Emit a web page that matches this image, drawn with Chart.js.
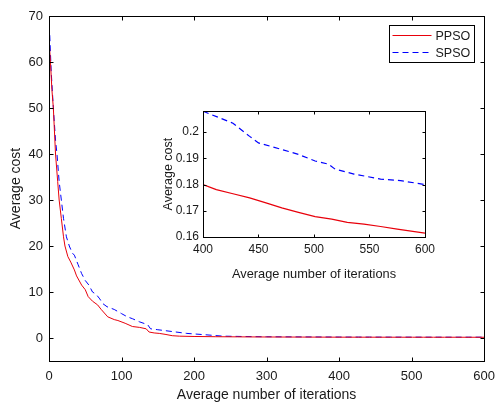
<!DOCTYPE html>
<html>
<head>
<meta charset="utf-8">
<script src="https://cdn.jsdelivr.net/npm/chart.js@4.4.0/dist/chart.umd.min.js"></script>
<style>
    html, body { margin: 0; padding: 0; background: #fff; }
    #wrap { position: relative; width: 503px; height: 409px; }
    #mainChart { position: absolute; left: 0; top: 0; width: 503px; height: 409px; }
    #insetChart { position: absolute; left: 155px; top: 100px; width: 285px; height: 183px; }
</style>
</head>
<body>
<div id="wrap">
    <canvas id="mainChart" width="503" height="409"></canvas>
    <canvas id="insetChart" width="285" height="183"></canvas>
</div>
<script>
// Main plot data
const ppsoX = [0, 2, 4, 6, 9, 12, 14, 17, 20, 22, 26, 30, 35, 38, 45, 50, 54, 60, 67, 72, 81, 90, 95, 105, 115, 125, 134, 138, 145, 152, 160, 170, 180, 200, 230, 260, 300, 350];
const ppsoY = [65, 60, 54, 50, 40, 34, 30, 26, 22, 20, 17.7, 16.5, 14.8, 13.5, 11.5, 10.5, 9, 8, 7.2, 6.2, 4.6, 4.0, 3.8, 3.2, 2.5, 2.3, 2.0, 1.3, 1.1, 1.0, 0.8, 0.5, 0.4, 0.33, 0.28, 0.25, 0.22, 0.2];
const spsoX = [0, 1, 3, 6, 9, 11, 14, 17, 20, 24, 28, 32, 35, 40, 45, 50, 55, 60, 65, 70, 74, 80, 90, 100, 108, 115, 125, 136, 140, 150, 170, 190, 216, 240, 270, 300, 350];
const spsoY = [68, 66, 58, 50, 43, 40, 34, 30, 26, 22, 20, 18.5, 18, 16, 14, 12.5, 11.5, 10, 9.5, 8.5, 7.5, 6.8, 6.2, 5.3, 4.6, 4.2, 3.5, 2.9, 2.0, 1.8, 1.4, 1.0, 0.7, 0.4, 0.32, 0.27, 0.24];

// Inset (zoom on 400..600)
const ppsoInsetX = [400, 412, 427, 442, 456, 471, 486, 501, 516, 530, 545, 560, 575, 600];
const ppsoInsetY = [0.1800, 0.1781, 0.1765, 0.1749, 0.1731, 0.1711, 0.1694, 0.1678, 0.1668, 0.1656, 0.1649, 0.1640, 0.1630, 0.1615];
const spsoInsetX = [400, 427, 442, 450, 471, 486, 501, 513, 519, 536, 560, 578, 600];
const spsoInsetY = [0.2080, 0.2034, 0.1984, 0.1959, 0.1934, 0.1915, 0.1890, 0.1878, 0.1859, 0.1840, 0.1821, 0.1815, 0.1800];

// Tick labels
const mainXTicks = [0, 100, 200, 300, 400, 500, 600];
const mainYTicks = [0, 10, 20, 30, 40, 50, 60, 70];
const insetXTicks = [400, 450, 500, 550, 600];
const insetYTicks = [0.16, 0.17, 0.18, 0.19, 0.2];

const FONT = "'Liberation Sans', Arial, Helvetica, sans-serif";
const TXT = "#1a1a1a";

function toPoints(xs, ys) {
    return xs.map((x, i) => ({ x: x, y: ys[i] }));
}

// MATLAB-style box with inward ticks, optional legend box
const framePlugin = {
    id: "frame",
    beforeDraw(chart) {
        const { ctx, chartArea: a } = chart;
        ctx.save();
        ctx.fillStyle = "#fff";
        ctx.fillRect(a.left, a.top, a.width, a.height);
        ctx.restore();
    },
    afterDraw(chart, args, opts) {
        const { ctx, chartArea: a, scales } = chart;
        const L = Math.round(a.left) + 0.5, R = Math.round(a.right) + 0.5;
        const T = Math.round(a.top) + 0.5, B = Math.round(a.bottom) + 0.5;
        const len = opts.len || 4;
        ctx.save();
        ctx.strokeStyle = "#000";
        ctx.lineWidth = 1;
        ctx.beginPath();
        scales.x.ticks.forEach(t => {
            const px = Math.round(scales.x.getPixelForValue(t.value)) + 0.5;
            ctx.moveTo(px, B); ctx.lineTo(px, B - len);
            ctx.moveTo(px, T); ctx.lineTo(px, T + len);
        });
        scales.y.ticks.forEach(t => {
            const py = Math.round(scales.y.getPixelForValue(t.value)) + 0.5;
            ctx.moveTo(L, py); ctx.lineTo(L + len, py);
            ctx.moveTo(R, py); ctx.lineTo(R - len, py);
        });
        ctx.stroke();
        ctx.strokeRect(L, T, R - L, B - T);

        if (opts.legend) {
            const w = 85, h = 37;
            const bx = Math.round(a.right - 10 - w) + 0.5, by = Math.round(a.top + 9) + 0.5;
            ctx.fillStyle = "#fff";
            ctx.fillRect(bx, by, w, h);
            ctx.strokeRect(bx, by, w, h);
            ctx.font = "12.5px " + FONT;
            ctx.textBaseline = "middle";
            chart.data.datasets.forEach((ds, i) => {
                const ly = by + 10 + i * 17;
                ctx.strokeStyle = ds.borderColor;
                ctx.lineWidth = 1.2;
                ctx.setLineDash(ds.borderDash || []);
                ctx.beginPath();
                ctx.moveTo(bx + 3, ly);
                ctx.lineTo(bx + 42, ly);
                ctx.stroke();
                ctx.setLineDash([]);
                ctx.fillStyle = TXT;
                ctx.fillText(ds.label, bx + 46, ly + 1);
            });
        }
        ctx.restore();
    }
};

function makeScales(cfg) {
    return {
        x: {
            type: "linear",
            min: cfg.xMin, max: cfg.xMax,
            grid: { display: false, drawTicks: false },
            border: { display: false },
            afterBuildTicks: s => { s.ticks = cfg.xTicks.map(v => ({ value: v })); },
            afterFit: s => { s.height = cfg.xHeight; },
            ticks: { color: TXT, padding: cfg.xPad, maxRotation: 0, font: { family: FONT, size: cfg.tickSize }, callback: v => String(v) },
            title: { display: true, text: "Average number of iterations", color: TXT, padding: { top: 0, bottom: cfg.xTitlePad }, font: { family: FONT, size: cfg.titleSize } }
        },
        y: {
            type: "linear",
            min: cfg.yMin, max: cfg.yMax,
            grid: { display: false, drawTicks: false },
            border: { display: false },
            afterBuildTicks: s => { s.ticks = cfg.yTicks.map(v => ({ value: v })); },
            afterFit: s => { s.width = cfg.yWidth; },
            ticks: { color: TXT, padding: cfg.yPad, font: { family: FONT, size: cfg.tickSize }, callback: v => String(+v.toFixed(3)) },
            title: { display: true, text: "Average cost", color: TXT, padding: { top: cfg.yTitlePad, bottom: 0 }, font: { family: FONT, size: cfg.yTitleSize || cfg.titleSize } }
        }
    };
}

function lineSet(label, pts, color, dash, width) {
    return {
        label: label,
        data: pts,
        borderColor: color,
        borderWidth: width,
        borderDash: dash,
        pointRadius: 0,
        fill: false,
        tension: 0
    };
}

new Chart(document.getElementById("mainChart"), {
    type: "line",
    data: {
        datasets: [
            lineSet("PPSO", toPoints(ppsoX, ppsoY).concat(toPoints(ppsoInsetX, ppsoInsetY)), "#e8000b", [], 1),
            lineSet("SPSO", toPoints(spsoX, spsoY).concat(toPoints(spsoInsetX, spsoInsetY)), "#0000ff", [6, 4], 1)
        ]
    },
    options: {
        responsive: false,
        animation: false,
        layout: { padding: { top: 16, right: 16, left: 0, bottom: 0 } },
        plugins: { legend: { display: false }, tooltip: { enabled: false }, frame: { len: 4, legend: true } },
        scales: makeScales({
            xMin: 0, xMax: 600, yMin: -5, yMax: 70,
            xTicks: mainXTicks, yTicks: mainYTicks,
            xHeight: 48, yWidth: 49, xPad: 8, yPad: 6,
            tickSize: 13, titleSize: 14, xTitlePad: 5, yTitlePad: 7.6
        })
    },
    plugins: [framePlugin]
});

new Chart(document.getElementById("insetChart"), {
    type: "line",
    data: {
        datasets: [
            lineSet("PPSO", toPoints(ppsoInsetX, ppsoInsetY), "#e8000b", [], 1.2),
            lineSet("SPSO", toPoints(spsoInsetX, spsoInsetY), "#0000ff", [6, 4], 1.2)
        ]
    },
    options: {
        responsive: false,
        animation: false,
        layout: { padding: { top: 11, right: 12, left: 0, bottom: 0 } },
        plugins: { legend: { display: false }, tooltip: { enabled: false }, frame: { len: 3, legend: false } },
        scales: makeScales({
            xMin: 400, xMax: 600, yMin: 0.16, yMax: 0.208,
            xTicks: insetXTicks, yTicks: insetYTicks,
            xHeight: 46, yWidth: 48, xPad: 5, yPad: 4,
            tickSize: 12, titleSize: 12.8, yTitleSize: 12.5, xTitlePad: 0.5, yTitlePad: 6
        })
    },
    plugins: [framePlugin]
});
</script>
</body>
</html>
